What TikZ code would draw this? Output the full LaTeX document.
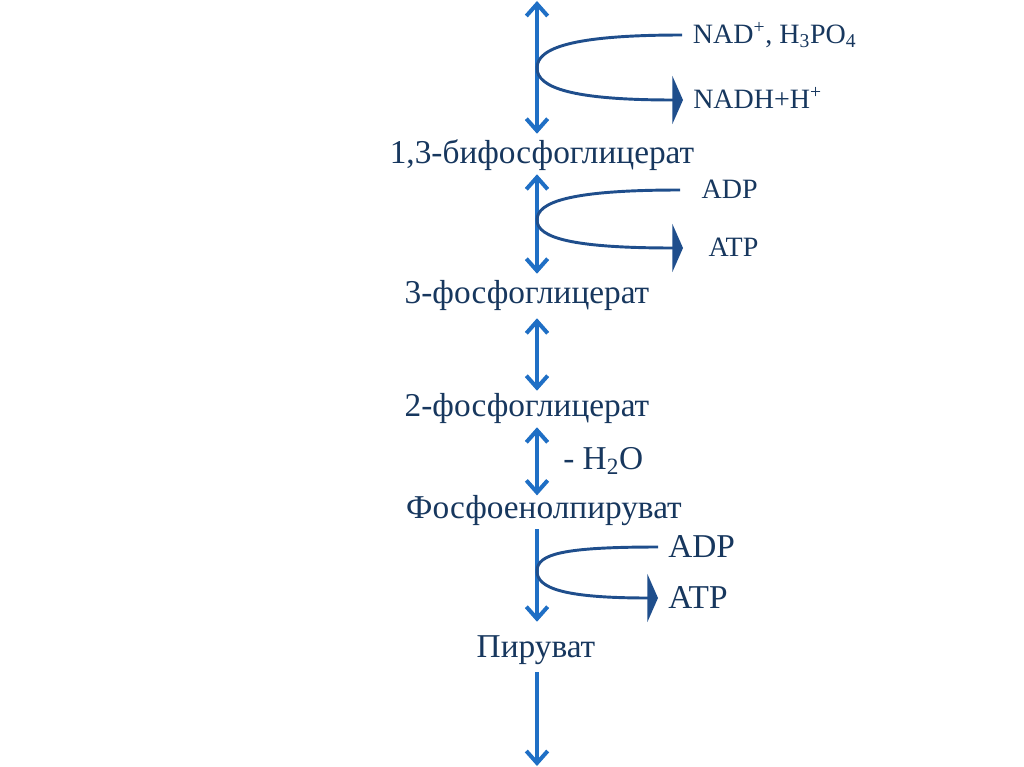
\documentclass[tikz,border=0pt]{standalone}
\usepackage{fontspec}
\setmainfont{Liberation Serif}
\usetikzlibrary{arrows.meta,positioning,calc}
\definecolor{axisblue}{HTML}{1F6FC5}
\definecolor{curveblue}{HTML}{1F4E8C}
\definecolor{textnavy}{HTML}{17375E}

\begin{document}
\begin{tikzpicture}[
  x=0.75pt, y=-0.75pt,
  stage/.style={
    font=\fontsize{25}{30}\selectfont, text=textnavy, inner sep=0pt,
    text height=14pt, text depth=0pt, minimum height=30pt
  },
  side/.style={
    anchor=west, font=\fontsize{21}{25}\selectfont, text=textnavy,
    inner ysep=0pt, text height=13pt, text depth=0pt
  },
  sidebig/.style={side, font=\fontsize{25}{30}\selectfont, text height=16pt},
  flow/.style={draw=axisblue, line width=3pt,
    arrows={-Straight Barb[length=9pt, width=16pt]}},
  twoway/.style={flow,
    arrows={Straight Barb[length=9pt, width=16pt]-Straight Barb[length=9pt, width=16pt]}},
  branch/.style={draw=curveblue, line width=2.2pt,
    arrows={-Triangle[length=8pt, width=36pt]}},
]
\useasboundingbox (0,0) rectangle (1024,767);

\coordinate (top) at (537,1);
\coordinate (bottom) at (537,766);

\node[stage] (bpg) at (542,154) {1,3-бифосфоглицерат};
\node[stage] (pga3) at (527,294) {3-фосфоглицерат};
\node[stage] (pga2) at (527,407) {2-фосфоглицерат};
\node[stage] (pep) at (544,509) {Фосфоенолпируват};
\node[stage] (pyr) at (536,648) {Пируват};

\draw[twoway] (top) -- (bpg.north -| top);
\draw[twoway] (bpg.south -| top) -- (pga3.north -| top);
\draw[twoway, shorten <=-3pt, shorten >=3pt] (pga2.north -| top) -- (pga3.south -| top);
\draw[twoway, shorten >=-5pt] (pga2.south -| top) -- (pep.north -| top);
\draw[flow, shorten >=4.5pt] (pep.south -| top) -- (pyr.north -| top);
\draw[flow, shorten <=3pt] (pyr.south -| top) -- (bottom);

\node[side, inner xsep=8pt] (nad) at (682,35) {NAD\textsuperscript{+}, H\textsubscript{3}PO\textsubscript{4}};
\node[side, inner xsep=7.5pt] (nadh) at (683,100) {NADH+H\textsuperscript{+}};
\node[side, inner xsep=16pt] (adpa) at (680,190) {ADP};
\node[side, inner xsep=19pt] (atpa) at (683,248) {ATP};
\node[sidebig, inner xsep=7.5pt] (adpb) at (658,547) {ADP};
\node[sidebig, inner xsep=7.5pt] (atpb) at (658,598) {ATP};
\node[sidebig, inner sep=0pt] (water) at (563,459) {- H\textsubscript{2}O};

\coordinate (v1) at (537,68);
\coordinate (v2) at (537,220);
\coordinate (v3) at (537,571);

\draw[branch] (nad.west) .. controls +(-110,0) and +(0,-20) .. (v1)
  .. controls +(0,20) and +(-110,0) .. (nadh.west);
\draw[branch] (adpa.west) .. controls +(-110,0) and +(0,-18) .. (v2)
  .. controls +(0,18) and +(-110,0) .. (atpa.west);
\draw[branch] (adpb.west) .. controls +(-95,0) and +(0,-17) .. (v3)
  .. controls +(0,17) and +(-95,0) .. (atpb.west);

\end{tikzpicture}
\end{document}
